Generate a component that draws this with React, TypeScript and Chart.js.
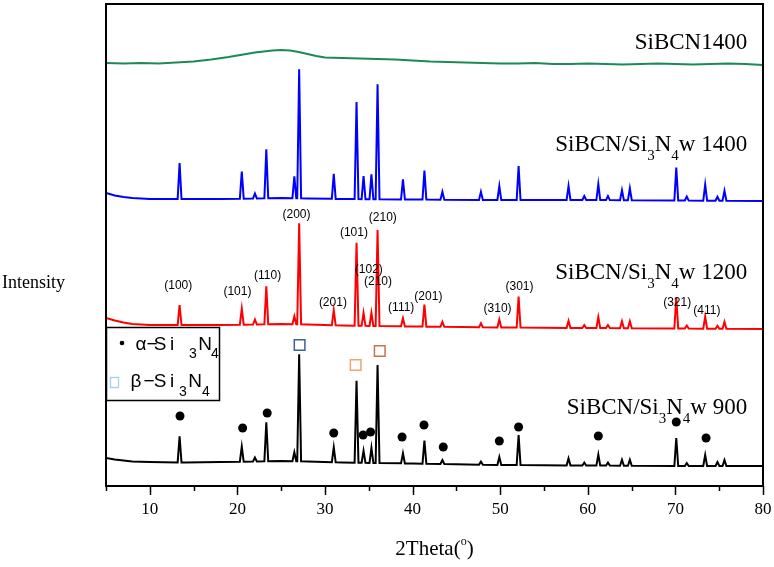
import { useEffect, useRef } from "react";
import { Chart, registerables } from "chart.js";

Chart.register(...registerables);

// ---------------- data ----------------
const X_MIN = 5;
const X_MAX = 80;
const Y_MIN = 0;
const Y_MAX = 482; // stacked intensity, arbitrary units

const xTickValues = [5, 10, 15, 20, 25, 30, 35, 40, 45, 50, 55, 60, 65, 70, 75, 80];
const xTickLabels = ["", "10", "", "20", "", "30", "", "40", "", "50", "", "60", "", "70", "", "80"];

// reflection positions (2θ, degrees)
const peakPos = [13.4, 20.5, 22.0, 23.3, 26.5, 27.05, 31.0, 33.6, 34.4, 35.3, 36.0, 38.9, 41.35, 43.4, 47.8, 49.9, 52.1, 57.8, 59.6, 61.2, 62.3, 63.9, 64.8, 70.1, 71.3, 73.4, 74.8, 75.6];
const peakHalfWidth = 0.22;

// peak heights above the local background for each pattern
const blue1400Heights = [36, 27, 5, 49, 22, 129, 25, 97, 23, 25, 115, 20, 29, 8, 8, 14, 34, 14, 4, 16, 4, 10, 12, 33, 4, 16, 4, 10];
const red1200Heights = [20, 16, 5, 38, 8, 101, 15, 83, 13, 13, 96, 8, 22, 5, 4, 8, 31, 7, 3, 11, 3, 7, 7, 31, 3, 12, 3, 7];
const black900Heights = [26, 15, 4, 39, 9, 107, 15, 82, 12, 15, 98, 10, 23, 4, 3, 8, 30, 7, 3, 11, 3, 6, 6, 28, 3, 11, 4, 6];

// backgrounds (2θ knots and stacked intensity)
const bgX = [5, 6, 7, 8, 10, 14, 18, 22, 25, 28, 32, 40, 50, 60, 70, 80];
const blue1400Bg = [293, 290.5, 289, 288, 287, 287, 287, 287.5, 288, 287.5, 287, 286.5, 286, 286, 285.5, 285];
const red1200Bg = [168, 165.5, 163.5, 162, 161, 161, 161, 161.5, 162, 161.5, 160.5, 159.5, 158.5, 158, 157.5, 157];
const black900Bg = [28, 26.5, 25.5, 24.5, 24, 23.5, 24, 24.5, 25, 24.5, 23.5, 22.5, 21, 20.5, 20, 20];

// amorphous SiBCN1400 pattern
const greenX = [5, 7, 9, 11, 13, 15, 17, 19, 21, 22, 23, 24, 25, 26, 27, 28, 29, 30, 32, 34, 36, 38, 40, 42, 44, 46, 48, 50, 52, 54, 56, 58, 60, 62, 64, 66, 68, 70, 72, 74, 76, 78, 80];
const greenY = [423, 422.5, 423, 422.5, 423.5, 424.5, 426.5, 429, 432, 433.5, 434.5, 435.5, 436, 435.5, 434, 432, 430, 428.5, 428, 427.5, 427, 426.5, 425.5, 424.5, 424, 423.5, 423, 422.5, 422.5, 423, 422, 422, 422.5, 422, 421.5, 422, 422.5, 422, 421.5, 422, 422.5, 422, 421];

// phase markers on the 900 pattern
const alphaX = [13.45, 20.6, 23.4, 31.0, 34.35, 35.2, 38.8, 41.3, 43.5, 49.9, 52.1, 61.2, 70.1, 73.5];
const alphaY = [70, 58, 73, 53, 51, 54, 49, 61, 39, 45, 59, 50, 64, 48];
const betaX = [27.1, 33.5, 36.25];
const betaY = [141, 121, 135];
const betaColors = ["#3f5f9f", "#f3a36e", "#c8744a"];

// Miller indices on the 1200 pattern
const millerText = ["(100)", "(101)", "(110)", "(200)", "(201)", "(101)", "(102)", "(210)", "(210)", "(111)", "(201)", "(310)", "(301)", "(321)", "(411)"];
const millerX = [13.25, 20.0, 23.45, 26.75, 30.9, 33.3, 35.0, 36.6, 36.05, 38.7, 41.8, 49.7, 52.2, 70.2, 73.6];
const millerY = [200, 194, 210, 271, 183, 253, 216, 268, 204, 178, 189, 177, 199, 183, 175];

// pattern names (right aligned), y in stacked units
const seriesNameParts = [
  [{ t: "SiBCN1400" }],
  [{ t: "SiBCN/Si" }, { t: "3", sub: true }, { t: "N" }, { t: "4", sub: true }, { t: "w 1400" }],
  [{ t: "SiBCN/Si" }, { t: "3", sub: true }, { t: "N" }, { t: "4", sub: true }, { t: "w 1200" }],
  [{ t: "SiBCN/Si" }, { t: "3", sub: true }, { t: "N" }, { t: "4", sub: true }, { t: "w 900" }],
];
const seriesNameY = [443, 341, 213, 78];
const seriesNameRightX = 78.2;

// ---------------- helpers ----------------
function interp(xs: number[], ys: number[], x: number) {
  if (x <= xs[0]) return ys[0];
  for (let i = 1; i < xs.length; i++) {
    if (x <= xs[i]) {
      const t = (x - xs[i - 1]) / (xs[i] - xs[i - 1]);
      return ys[i - 1] + t * (ys[i] - ys[i - 1]);
    }
  }
  return ys[ys.length - 1];
}

function buildPattern(bx: number[], by: number[], heights: number[]) {
  const pts: { x: number; y: number }[] = [];
  bx.forEach((x, i) => {
    if (!peakPos.some((p) => Math.abs(p - x) <= peakHalfWidth + 0.02)) pts.push({ x, y: by[i] });
  });
  peakPos.forEach((p, i) => {
    pts.push({ x: p - peakHalfWidth, y: interp(bx, by, p - peakHalfWidth) });
    pts.push({ x: p, y: interp(bx, by, p) + heights[i] });
    pts.push({ x: p + peakHalfWidth, y: interp(bx, by, p + peakHalfWidth) });
  });
  pts.sort((a, b) => a.x - b.x);
  return pts;
}

const SERIF = '"Liberation Serif", "Times New Roman", serif';
const SANS = '"Liberation Sans", Arial, sans-serif';

const overlayPlugin = {
  id: "overlay",
  afterDatasetsDraw(chart: any) {
    const { ctx, chartArea: ca, scales } = chart;
    const xs = scales.x;
    const ys = scales.y;
    ctx.save();

    // frame
    ctx.strokeStyle = "#000";
    ctx.lineWidth = 2;
    ctx.strokeRect(ca.left, ca.top, ca.right - ca.left, ca.bottom - ca.top);

    // tick marks
    ctx.lineWidth = 1.5;
    xTickValues.forEach((v, i) => {
      const px = Math.round(xs.getPixelForValue(v)) + 0.5;
      const len = xTickLabels[i] ? 9 : 5;
      ctx.beginPath();
      ctx.moveTo(px, ca.bottom);
      ctx.lineTo(px, ca.bottom + len);
      ctx.stroke();
    });

    // Miller indices
    ctx.fillStyle = "#000";
    ctx.font = `12px ${SANS}`;
    ctx.textAlign = "center";
    ctx.textBaseline = "middle";
    millerText.forEach((t, i) => {
      ctx.fillText(t, xs.getPixelForValue(millerX[i]), ys.getPixelForValue(millerY[i]));
    });

    // pattern names
    const mainFont = `23px ${SERIF}`;
    const subFont = `15px ${SERIF}`;
    seriesNameParts.forEach((parts, i) => {
      let w = 0;
      parts.forEach((p: any) => {
        ctx.font = p.sub ? subFont : mainFont;
        w += ctx.measureText(p.t).width;
      });
      let cx = xs.getPixelForValue(seriesNameRightX) - w;
      const cy = ys.getPixelForValue(seriesNameY[i]);
      ctx.textAlign = "left";
      ctx.textBaseline = "middle";
      parts.forEach((p: any) => {
        ctx.font = p.sub ? subFont : mainFont;
        ctx.fillText(p.t, cx, p.sub ? cy + 11 : cy);
        cx += ctx.measureText(p.t).width;
      });
    });

    // legend box
    const lx = ca.left;
    const ly = ca.top + 323;
    ctx.fillStyle = "#fff";
    ctx.fillRect(lx, ly, 113, 73);
    ctx.strokeStyle = "#000";
    ctx.lineWidth = 1.5;
    ctx.strokeRect(lx + 0.5, ly + 0.5, 113, 73);
    ctx.fillStyle = "#000";
    ctx.beginPath();
    ctx.arc(lx + 16, ly + 16, 2.3, 0, Math.PI * 2);
    ctx.fill();
    ctx.strokeStyle = "#9fd3ea";
    ctx.lineWidth = 1.3;
    ctx.strokeRect(lx + 4.5, ly + 50.5, 8, 10);

    const glyph = (t: string, x: number, y: number, size: number) => {
      ctx.font = `${size}px ${SANS}`;
      ctx.textAlign = "center";
      ctx.textBaseline = "middle";
      ctx.fillText(t, lx + x, ly + y);
    };
    // row 1
    glyph("α", 35, 18, 19);
    glyph("−", 46, 18, 19);
    glyph("S", 54, 18, 19);
    glyph("i", 66, 18, 19);
    glyph("3", 87, 27, 14);
    glyph("N", 99, 18, 19);
    glyph("4", 109, 27, 14);
    // row 2
    glyph("β", 30, 55, 19);
    glyph("−", 43, 55, 19);
    glyph("S", 54, 55, 19);
    glyph("i", 66, 55, 19);
    glyph("3", 77, 65, 14);
    glyph("N", 89, 55, 19);
    glyph("4", 100, 65, 14);

    // y title
    ctx.font = `18px ${SERIF}`;
    ctx.textAlign = "left";
    ctx.textBaseline = "middle";
    ctx.fillText("Intensity", ca.left - 104, 283);

    // x title with superscript
    const tMain = `21px ${SERIF}`;
    const tSup = `12px ${SERIF}`;
    ctx.font = tMain;
    const w1 = ctx.measureText("2Theta(").width;
    const w3 = ctx.measureText(")").width;
    ctx.font = tSup;
    const w2 = ctx.measureText("o").width;
    let tx = (ca.left + ca.right) / 2 - (w1 + w2 + w3) / 2;
    const ty = ca.bottom + 63;
    ctx.font = tMain;
    ctx.fillText("2Theta(", tx, ty);
    tx += w1;
    ctx.font = tSup;
    ctx.fillText("o", tx, ty - 7);
    tx += w2;
    ctx.font = tMain;
    ctx.fillText(")", tx, ty);

    ctx.restore();
  },
};

export default function App() {
  const canvasRef = useRef<HTMLCanvasElement | null>(null);

  useEffect(() => {
    const canvas = canvasRef.current;
    if (!canvas) return;
    const lineDs = (label: string, data: any, color: string) => ({
      type: "line" as const,
      label,
      data,
      borderColor: color,
      backgroundColor: color,
      borderWidth: 2,
      pointRadius: 0,
      tension: 0,
      fill: false,
    });
    const chart = new Chart(canvas, {
      type: "line",
      data: {
        datasets: [
          lineDs("SiBCN1400", greenX.map((x, i) => ({ x, y: greenY[i] })), "#1b8a57"),
          lineDs("SiBCN/Si3N4w 1400", buildPattern(bgX, blue1400Bg, blue1400Heights), "#0000ff"),
          lineDs("SiBCN/Si3N4w 1200", buildPattern(bgX, red1200Bg, red1200Heights), "#ff0000"),
          lineDs("SiBCN/Si3N4w 900", buildPattern(bgX, black900Bg, black900Heights), "#000000"),
          {
            type: "scatter" as const,
            label: "α-Si3N4",
            data: alphaX.map((x, i) => ({ x, y: alphaY[i] })),
            pointRadius: 4.5,
            pointStyle: "circle",
            pointBackgroundColor: "#000",
            pointBorderColor: "#000",
            pointBorderWidth: 0,
            showLine: false,
          } as any,
          {
            type: "scatter" as const,
            label: "β-Si3N4",
            data: betaX.map((x, i) => ({ x, y: betaY[i] })),
            pointRadius: 7.5,
            pointStyle: "rect",
            pointBackgroundColor: "rgba(255,255,255,0)",
            pointBorderColor: betaColors,
            pointBorderWidth: 1.5,
            showLine: false,
          } as any,
        ],
      },
      options: {
        responsive: false,
        animation: false,
        devicePixelRatio: 1,
        layout: { autoPadding: false, padding: { left: 106, right: 11, top: 4, bottom: 0 } },
        plugins: { legend: { display: false }, tooltip: { enabled: false } },
        scales: {
          x: {
            type: "linear",
            min: X_MIN,
            max: X_MAX,
            afterBuildTicks: (scale: any) => {
              scale.ticks = xTickValues.map((v) => ({ value: v }));
            },
            afterFit: (scale: any) => {
              scale.height = 81;
              scale.paddingLeft = 0;
              scale.paddingRight = 0;
            },
            grid: { display: false, drawTicks: false },
            border: { display: false },
            ticks: {
              autoSkip: false,
              maxRotation: 0,
              padding: 13,
              color: "#000",
              font: { family: SERIF, size: 17 },
              callback: (v: any) => xTickLabels[xTickValues.indexOf(Number(v))] ?? "",
            },
          },
          y: {
            type: "linear",
            display: false,
            min: Y_MIN,
            max: Y_MAX,
          },
        },
      },
      plugins: [overlayPlugin],
    });
    return () => chart.destroy();
  }, []);

  return (
    <div style={{ position: "fixed", left: 0, top: 0, width: 774, height: 567, background: "#fff" }}>
      <canvas ref={canvasRef} width={774} height={567} style={{ width: 774, height: 567, display: "block" }} />
    </div>
  );
}
